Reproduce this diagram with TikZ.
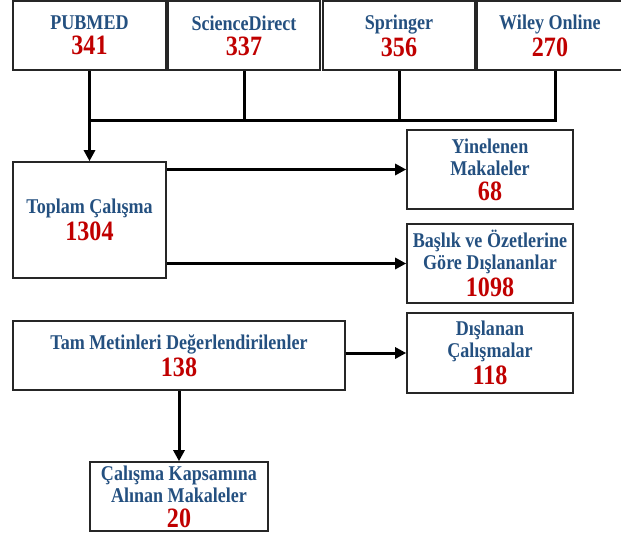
\documentclass[tikz,border=0pt]{standalone}
\usepackage{fontspec}
\setmainfont{Liberation Serif}[FakeStretch=0.86]
\usetikzlibrary{arrows.meta}
\definecolor{baslikmavi}{RGB}{36,80,128}
\definecolor{sayikirmizi}{RGB}{192,0,0}
\tikzset{>={Triangle[length=11pt,width=11pt]}}
\tikzset{kutu/.style={draw=black!85,line width=1.6pt,inner sep=0pt,align=center,
  font=\bfseries\fontsize{21}{22}\selectfont,text=baslikmavi}}
\tikzset{ok/.style={line width=3pt}}
\newcommand{\sayi}[1]{\\[3pt]{\color{sayikirmizi}\fontsize{28}{28}\selectfont #1}}

\begin{document}
\begin{tikzpicture}[x=1pt,y=-1pt]
\useasboundingbox (0,0) rectangle (621,533);

% kaynaklar
\node[kutu,minimum width=153,minimum height=69] (pubmed) at (89.5,35.5) {PUBMED\sayi{341}};
\node[kutu,minimum width=152,minimum height=69] (sciencedirect) at (244,35.5) {ScienceDirect\sayi{337}};
\node[kutu,minimum width=152,minimum height=69] (springer) at (399,35.5) {Springer\sayi{356}};
\node[kutu,minimum width=146,minimum height=69] (wiley) at (550,35.5) {Wiley Online\sayi{270}};

% eleme adimlari
\node[kutu,minimum width=153,minimum height=116] (toplam) at (89.5,220) {Toplam Çalışma\sayi{1304}};
\node[kutu,minimum width=166,minimum height=79] (yinelenen) at (490,169.5) {Yinelenen\\Makaleler\sayi{68}};
\node[kutu,minimum width=166,minimum height=79] (baslik) at (490,263.5) {Başlık ve Özetlerine\\Göre Dışlananlar\sayi{1098}};
\node[kutu,minimum width=332,minimum height=69] (tammetin) at (179,355.5) {Tam Metinleri Değerlendirilenler\sayi{138}};
\node[kutu,minimum width=166,minimum height=80] (dislanan) at (490,353) {Dışlanan\\Çalışmalar\sayi{118}};
\node[kutu,minimum width=178,minimum height=69] (kapsam) at (179,496.5) {Çalışma Kapsamına\\Alınan Makaleler\sayi{20}};

\coordinate (birlesme) at (555,120);
\draw[ok] (wiley.south -| birlesme) -- (birlesme) -- (pubmed.south |- birlesme);
\draw[ok] (sciencedirect.south) -- (sciencedirect.south |- birlesme);
\draw[ok] (springer.south) -- (springer.south |- birlesme);
\draw[ok,->] (pubmed) -- (toplam);

\draw[ok,->] (toplam.east |- yinelenen.west) -- (yinelenen.west);
\draw[ok,->] (toplam.east |- baslik.west) -- (baslik.west);
\draw[ok,->] (tammetin.east |- dislanan.west) -- (dislanan.west);
\draw[ok,->] (tammetin) -- (kapsam);

\end{tikzpicture}
\end{document}
